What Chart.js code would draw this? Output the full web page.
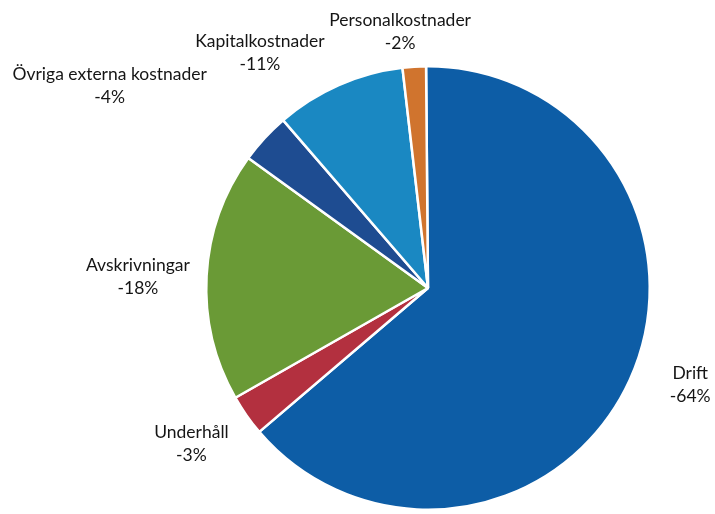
<!DOCTYPE html>
<html>
<head>
<meta charset="utf-8">
<script src="https://cdn.jsdelivr.net/npm/chart.js@4/dist/chart.umd.min.js"></script>
<style>
  html, body { margin: 0; padding: 0; background: #ffffff; }
  #wrap { width: 715px; height: 514px; position: relative; }
</style>
</head>
<body>
<div id="wrap"><canvas id="c" width="715" height="514"></canvas></div>
<script>
// Data (clockwise from 12 o'clock)
const categories = ["Drift", "Underhåll", "Avskrivningar", "Övriga externa kostnader", "Kapitalkostnader", "Personalkostnader"];
const shares = [63.9, 3.0, 18.2, 3.7, 9.5, 1.7];
const percentLabels = ["-64%", "-3%", "-18%", "-4%", "-11%", "-2%"];

// Styling / label placement (polar: degrees clockwise from top, distance in radii)
const sliceColors = ["#0D5DA6", "#B3303F", "#6A9A36", "#1E4C91", "#1A88C2", "#D0742E"];
const labelAngle = [110.2, 236.6, 272.2, 302.4, 324.5, 353.8];
const labelDist = [1.26, 1.278, 1.309, 1.70, 1.305, 1.164];

const labelPlugin = {
  id: 'outsideLabels',
  afterDatasetsDraw(chart) {
    const ctx = chart.ctx;
    const meta = chart.getDatasetMeta(0);
    ctx.save();
    ctx.font = '17.5px Lato, "Open Sans", sans-serif';
    ctx.fillStyle = '#151515';
    ctx.textAlign = 'center';
    ctx.textBaseline = 'middle';
    meta.data.forEach((arc, i) => {
      const r = arc.outerRadius;
      const a = labelAngle[i] * Math.PI / 180;
      const cx = arc.x + Math.sin(a) * r * labelDist[i];
      const cy = arc.y - Math.cos(a) * r * labelDist[i];
      ctx.fillText(categories[i], cx, cy - 11.5);
      ctx.fillText(percentLabels[i], cx, cy + 11.5);
    });
    ctx.restore();
  }
};

new Chart(document.getElementById('c'), {
  type: 'pie',
  data: {
    labels: categories,
    datasets: [{
      data: shares,
      backgroundColor: sliceColors,
      borderColor: '#ffffff',
      borderWidth: 2.5
    }]
  },
  options: {
    responsive: false,
    animation: false,
    rotation: -0.5,
    layout: { padding: { top: 65, bottom: 3, left: 205, right: 64 } },
    plugins: {
      legend: { display: false },
      tooltip: { enabled: false }
    }
  },
  plugins: [labelPlugin]
});
</script>
</body>
</html>
